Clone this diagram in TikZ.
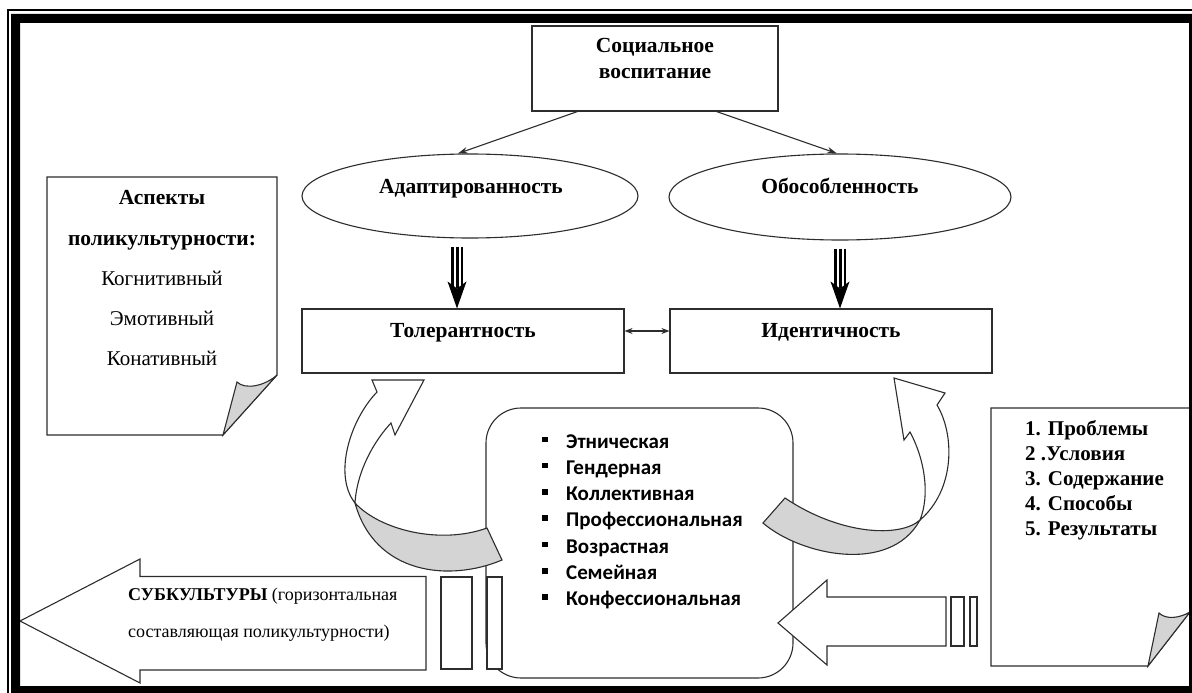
\documentclass[tikz,border=0pt]{standalone}
\usepackage{fontspec}
\setmainfont{Liberation Serif}
\newfontfamily\calib{Carlito}
\usetikzlibrary{shapes.geometric,arrows.meta,calc}
\definecolor{foldcol}{RGB}{212,212,212}
\definecolor{lncol}{RGB}{45,45,45}
\newcommand{\tripleArrow}[2]{%
  \draw[line width=12pt] (#1) -- ($(#2)+(0,-20)$);
  \draw[white,line width=7pt] ($(#1)+(0,-1)$) -- ($(#2)+(0,-19)$);
  \draw[line width=3pt] (#1) -- ($(#2)+(0,-20)$);
  \fill (#2) -- ++(-9.5,-27) -- ++(9.5,7) -- ++(9.5,-7) -- cycle;
}
\begin{document}
\begin{tikzpicture}[x=1pt,y=-1pt,
  ln/.style={draw=lncol,line width=1.1pt},
  box/.style={ln,fill=white,rectangle,inner sep=0},
  ell/.style={ln,fill=white,ellipse,inner sep=0},
  bt/.style={font=\fontsize{21.5}{25}\selectfont\bfseries,inner sep=0},
  nt/.style={font=\fontsize{21}{25}\selectfont,inner sep=0},
  lt/.style={font=\fontsize{21}{25}\selectfont\bfseries,inner sep=0,anchor=base west},
  st/.style={font=\fontsize{18}{22}\selectfont,inner sep=0,anchor=base west},
  bl/.style={font=\calib\bfseries\fontsize{21}{24}\selectfont,inner sep=0,anchor=base west},
  thin/.style={ln,-{Stealth[length=10pt,width=6.5pt]}}
]
\fill[white] (0,0) rectangle (1192,693);
\useasboundingbox (0,0) rectangle (1192,693);

% rounded central box
\node[box,rounded corners=35pt,minimum width=307pt,minimum height=270pt] (sub) at (639.5,543) {};

% big left arrow
\draw[ln,fill=white] (20,621) -- (140,559) -- (140,576.5) -- (426,576.5) -- (426,670) -- (140,670) -- (140,683) -- cycle;
\draw[ln,fill=white] (441,577) rectangle (472,669);
\draw[ln,fill=white] (487,577) rectangle (502,669);
\node[st] (subt1) at (128,600) {\textbf{СУБКУЛЬТУРЫ} (горизонтальная};
\node[st] (subt2) at (128,637) {составляющая поликультурности)};

% right arrow
\draw[ln,fill=white] (778,623) -- (827,580) -- (827,597) -- (946,597) -- (946,646) -- (827,646) -- (827,665) -- cycle;
\draw[ln,fill=white] (951,597) rectangle (964,646);
\draw[ln,fill=white] (970,597) rectangle (977,646);

% left curved arrow
\draw[ln,fill=white] (355,503) .. controls (333,475) and (350,420) .. (377,392) -- (372,380) -- (424,380) -- (395,435) -- (391,423) .. controls (375,440) and (357,470) .. (355,503) -- cycle;
\draw[ln,fill=foldcol] (355,503) .. controls (380,530) and (440,545) .. (487,528) -- (502,560) .. controls (450,582) and (375,575) .. (355,503) -- cycle;

% right curved arrow
\draw[ln,fill=white] (920,520) .. controls (955,490) and (955,435) .. (937,405) -- (945,393) -- (894,378) -- (904,440) -- (910,432) .. controls (925,460) and (930,495) .. (920,520) -- cycle;
\draw[ln,fill=foldcol] (920,520) .. controls (900,538) and (840,535) .. (785,498) -- (763,523) .. controls (800,555) and (890,575) .. (920,520) -- cycle;

% bullet list
\foreach \t [count=\i] in {Этническая,Гендерная,Коллективная,Профессиональная,Возрастная,Семейная,Конфессиональная}{
  \node[bl] (b\i) at (566,{448+26.3*(\i-1)}) {\t};
  \fill (542,{436.5+26.3*(\i-1)}) rectangle ++(5.5,5.5);
}

% left note
\draw[ln,fill=white] (47,177) -- (277,177) -- (277,375) -- (223,435) -- (47,435) -- cycle;
\draw[ln,fill=foldcol] (223,435) -- (237,382) .. controls (245,390) and (265,386) .. (277,375) -- cycle;
\node[bt,anchor=base] (asp1) at (162,204) {Аспекты};
\node[bt,anchor=base] (asp2) at (162,245) {поликультурности:};
\node[nt,anchor=base] (asp3) at (162,285) {Когнитивный};
\node[nt,anchor=base] (asp4) at (162,325) {Эмотивный};
\node[nt,anchor=base] (asp5) at (162,365) {Конативный};

% right note
\draw[ln,fill=white] (991,408) -- (1190,408) -- (1190,612) -- (1148,666) -- (991,666) -- cycle;
\draw[ln,fill=foldcol] (1148,666) -- (1159,613) .. controls (1166,620) and (1180,618) .. (1190,612) -- cycle;
\foreach \t [count=\i] in {1. Проблемы,2 .Условия,3. Содержание,4. Способы,5. Результаты}{
  \node[lt] (r\i) at (1025,{435+25*(\i-1)}) {\t};
}

% top box
\node[box,minimum width=246pt,minimum height=85pt] (soc) at (655,68.5) {};
\node[bt,anchor=base] (soct1) at (655,52.7) {Социальное};
\node[bt,anchor=base] (soct2) at (655,78) {воспитание};

% ellipses
\node[ell,minimum width=336pt,minimum height=84pt] (ad) at (470,196) {};
\node[bt,anchor=base] (adt) at (471,193) {Адаптированность};
\node[ell,minimum width=342pt,minimum height=86pt] (ob) at (840,197) {};
\node[bt,anchor=base] (obt) at (840,193) {Обособленность};

% boxes
\node[box,minimum width=322pt,minimum height=64pt] (tol) at (463,341) {};
\node[bt,anchor=base] (tolt) at (463,337) {Толерантность};
\node[box,minimum width=322pt,minimum height=64pt] (idn) at (831,341) {};
\node[bt,anchor=base] (idnt) at (831,337) {Идентичность};

% connectors
\draw[thin] ([xshift=46pt]soc.south west) -- (ad.106);
\draw[thin] ([xshift=-62pt]soc.south east) -- (ob.94);
\draw[ln,{Stealth[length=8pt,width=6pt]}-{Stealth[length=8pt,width=6pt]}] ([yshift=10pt]tol.east) -- ([yshift=10pt]idn.west);

\coordinate (ta1) at ([xshift=-13pt,yshift=-8pt]ad.south);
\coordinate (ta2) at (ta1 |- tol.north);
\tripleArrow{ta1}{ta2}
\coordinate (tb1) at ([yshift=-8pt]ob.south);
\coordinate (tb2) at (tb1 |- idn.north);
\tripleArrow{tb1}{tb2}

% frame
\fill[black,even odd rule] (11,14) rectangle (1192,693) (20,23) rectangle (1189,686);
\draw[line width=1.6pt] (8,693) -- (8,10) -- (1192,10);
\end{tikzpicture}
\end{document}
